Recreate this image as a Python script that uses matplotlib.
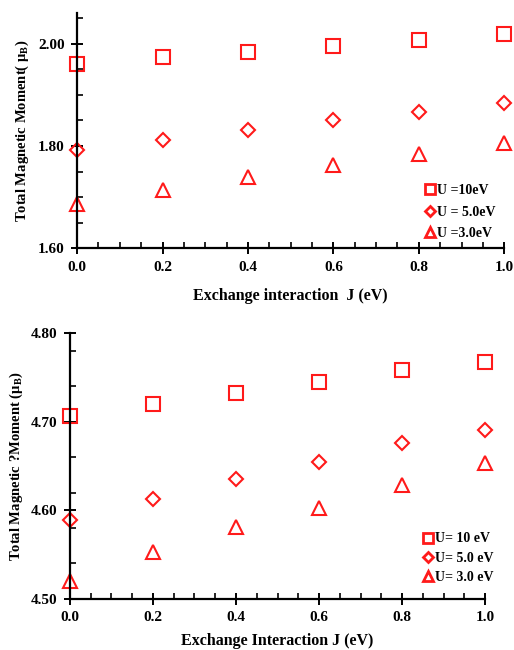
import numpy as np
import matplotlib.pyplot as plt
from matplotlib.ticker import MultipleLocator, FixedLocator, FormatStrFormatter

plt.rcParams['font.family'] = ['Liberation Serif', 'DejaVu Serif']
plt.rcParams['font.weight'] = 'bold'
plt.rcParams['axes.labelweight'] = 'bold'
plt.rcParams['mathtext.fontset'] = 'stix'

J = [0.0, 0.2, 0.4, 0.6, 0.8, 1.0]

# top panel
top_u10 = [1.961, 1.974, 1.984, 1.995, 2.007, 2.018]
top_u5 = [1.792, 1.812, 1.832, 1.850, 1.867, 1.884]
top_u3 = [1.687, 1.713, 1.739, 1.762, 1.785, 1.805]
top_labels = ['U =10eV', 'U = 5.0eV', 'U =3.0eV']

# bottom panel
bot_u10 = [4.706, 4.720, 4.732, 4.745, 4.758, 4.767]
bot_u5 = [4.589, 4.613, 4.635, 4.654, 4.676, 4.691]
bot_u3 = [4.520, 4.553, 4.581, 4.602, 4.628, 4.653]
bot_labels = ['U= 10 eV', 'U= 5.0 eV', 'U= 3.0 eV']

red = '#ff1a1a'

fig = plt.figure(figsize=(5.14, 6.5), dpi=100)
ax1 = fig.add_axes([0.150, 0.618, 0.831, 0.362])
ax2 = fig.add_axes([0.136, 0.0785, 0.808, 0.4095])


def style(ax, ylim, ymajor, yminor, fmt):
    for s in ['top', 'right']:
        ax.spines[s].set_visible(False)
    for s in ['left', 'bottom']:
        ax.spines[s].set_linewidth(1.6)
    ax.set_xlim(0, 1.0)
    ax.set_ylim(*ylim)
    ax.xaxis.set_major_locator(MultipleLocator(0.2))
    ax.xaxis.set_minor_locator(MultipleLocator(0.05))
    ax.yaxis.set_major_locator(MultipleLocator(ymajor))
    ax.yaxis.set_minor_locator(FixedLocator(yminor))
    ax.xaxis.set_major_formatter(FormatStrFormatter('%.1f'))
    ax.yaxis.set_major_formatter(FormatStrFormatter(fmt))
    ax.tick_params(which='major', direction='inout', length=8, width=1.4,
                   labelsize=11, pad=5)
    ax.tick_params(which='minor', direction='in', length=4, width=1.2)


def draw(ax, a, b, c, labels, anchor, spacing):
    kw = dict(ls='none', mfc='none', mec=red, mew=1.5, clip_on=False)
    ax.plot(J, a, marker='s', ms=10, **kw)
    ax.plot(J, b, marker='D', ms=7, **kw)
    ax.plot(J, c, marker='^', ms=10, **kw)
    h = [plt.Line2D([], [], ls='none', marker=m, ms=s, mfc='none', mec=red, mew=2)
         for m, s in [('s', 6.5), ('D', 5), ('^', 7)]]
    ax.legend(h, labels, loc='lower right', bbox_to_anchor=anchor, frameon=False,
              fontsize=10, handlelength=0.6, handletextpad=0.2,
              labelspacing=spacing, borderaxespad=0.2)


draw(ax1, top_u10, top_u5, top_u3, top_labels, (1.0, 0.0), 0.6)
style(ax1, (1.60, 2.06), 0.2, np.arange(1.65, 2.06, 0.05), '%.2f')
ax1.set_xlabel('Exchange interaction  J (eV)', fontsize=11.5, labelpad=10)
ax1.set_ylabel('Total Magnetic Moment( μ$_\\mathregular{B}$)', fontsize=10.5, labelpad=5)

draw(ax2, bot_u10, bot_u5, bot_u3, bot_labels, (1.04, 0.025), 0.45)
style(ax2, (4.50, 4.80), 0.1, np.arange(4.54, 4.80, 0.04), '%.2f')
ax2.set_xlabel('Exchange Interaction J (eV)', fontsize=11.5, labelpad=6)
ax2.set_ylabel('Total Magnetic ?Moment (μ$_\\mathregular{B}$)', fontsize=10.5, labelpad=4)

fig.savefig('out.png', dpi=100)
